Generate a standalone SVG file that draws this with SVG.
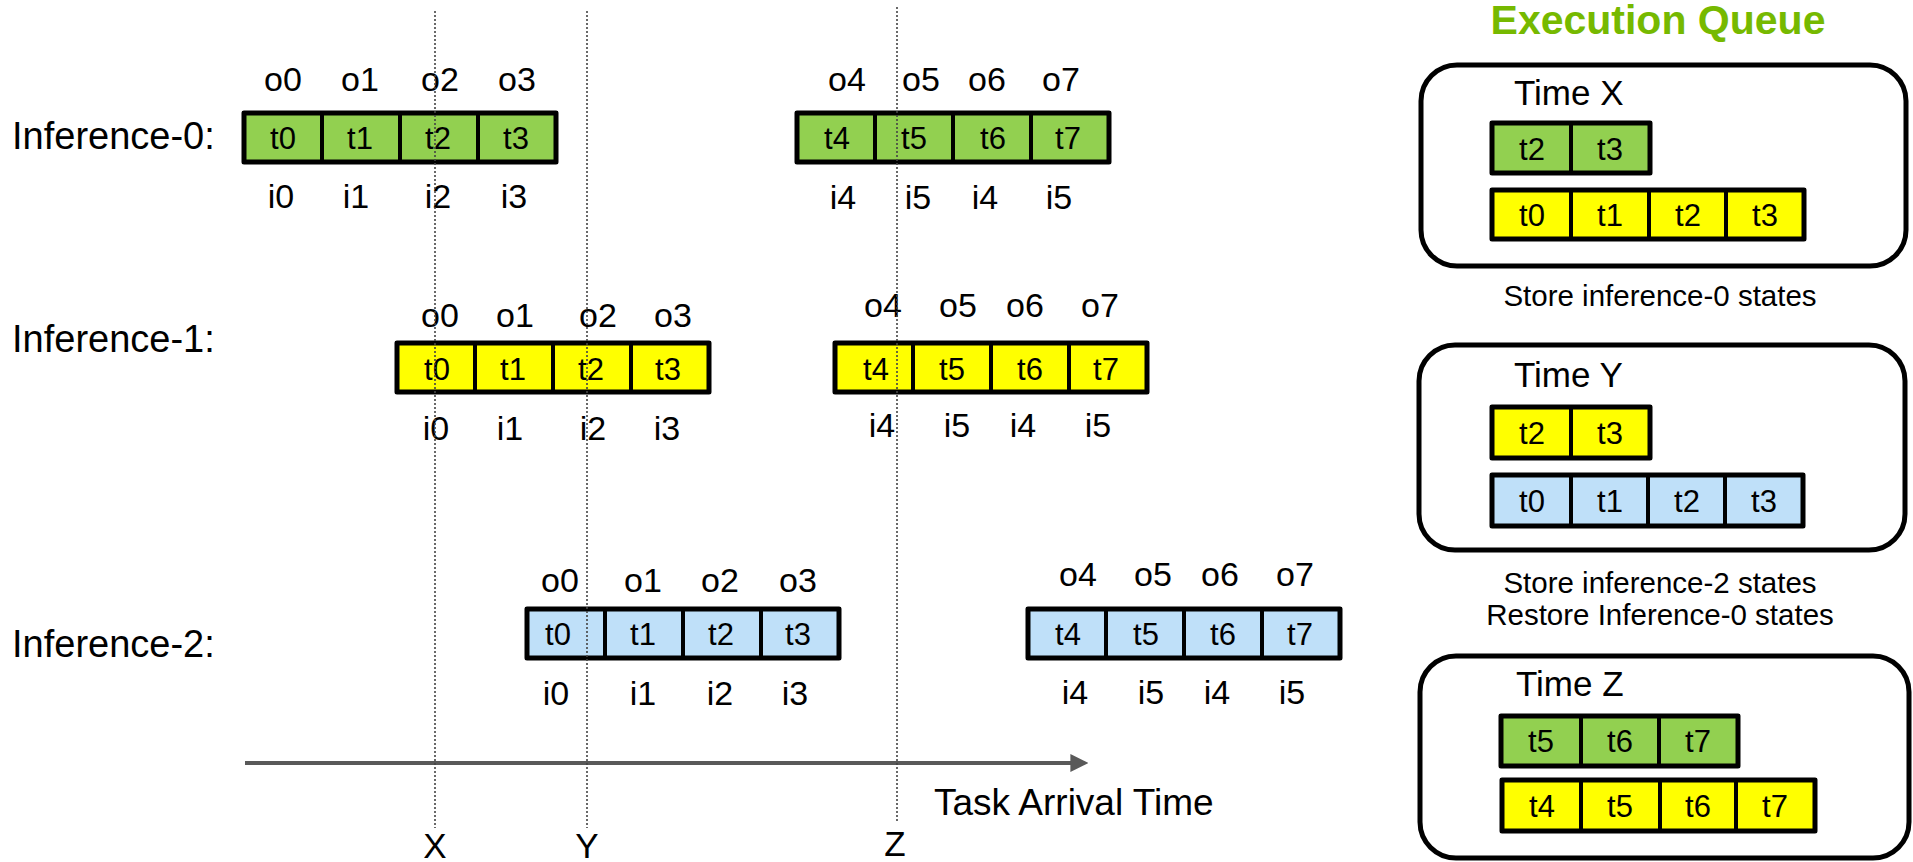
<svg xmlns="http://www.w3.org/2000/svg" width="1913" height="862" viewBox="0 0 1913 862">
  <style>
    text { font-family: "Liberation Sans", Arial, sans-serif; fill: #000; }
    .lbl { font-size: 34px; text-anchor: middle; }
    .tl { font-size: 31px; text-anchor: middle; }
    .row { font-size: 38px; }
    .cap { font-size: 29.5px; text-anchor: middle; }
    .time { font-size: 35px; }
    .axis-text { font-size: 37px; }
    .title { font-size: 41px; font-weight: bold; fill: #76b900; text-anchor: middle; }
    .g { fill: #92d050; }
    .y { fill: #ffff00; }
    .b { fill: #bfe0f9; }
    .cell { stroke: #000; stroke-width: 4; }
    .frame { fill: none; stroke: #000; stroke-width: 5; stroke-linejoin: round; }
    .queue { fill: #fff; stroke: #000; stroke-width: 5; }
    .guide { stroke: #444; stroke-width: 1.6; stroke-dasharray: 2 2; fill: none; }
    .axis { stroke: #595959; stroke-width: 4; fill: none; }
  </style>
  <defs>
    <marker id="arrowhead" viewBox="0 0 10 10" refX="2" refY="5" markerWidth="4.5" markerHeight="4.5" orient="auto">
      <path d="M0,0 L10,5 L0,10 z" fill="#595959"/>
    </marker>
  </defs>
  <rect width="1913" height="862" fill="#fff"/>

  <!-- Inference-0 -->
  <g id="inference-0">
    <text class="row" x="12" y="149">Inference-0:</text>
    <g class="lbl">
      <text x="283" y="91">o0</text><text x="360" y="91">o1</text><text x="440" y="91">o2</text><text x="517" y="91">o3</text>
      <text x="847" y="91">o4</text><text x="921" y="91">o5</text><text x="987" y="91">o6</text><text x="1061" y="91">o7</text>
      <text x="281" y="208">i0</text><text x="356" y="208">i1</text><text x="438" y="208">i2</text><text x="514" y="208">i3</text>
      <text x="843" y="209">i4</text><text x="918" y="209">i5</text><text x="985" y="209">i4</text><text x="1059" y="209">i5</text>
    </g>
    <g class="g cell">
      <rect x="244" y="113" width="78" height="49"/><rect x="322" y="113" width="78" height="49"/>
      <rect x="400" y="113" width="78" height="49"/><rect x="478" y="113" width="78" height="49"/>
      <rect x="797" y="113" width="78" height="49"/><rect x="875" y="113" width="78" height="49"/>
      <rect x="953" y="113" width="78" height="49"/><rect x="1031" y="113" width="78" height="49"/>
    </g>
    <rect class="frame" x="244" y="113" width="312" height="49"/>
    <rect class="frame" x="797" y="113" width="312" height="49"/>
    <g class="tl">
      <text x="283" y="149">t0</text><text x="360" y="149">t1</text><text x="438" y="149">t2</text><text x="516" y="149">t3</text>
      <text x="837" y="149">t4</text><text x="914" y="149">t5</text><text x="993" y="149">t6</text><text x="1068" y="149">t7</text>
    </g>
  </g>

  <!-- Inference-1 -->
  <g id="inference-1">
    <text class="row" x="12" y="352">Inference-1:</text>
    <g class="lbl">
      <text x="440" y="327">o0</text><text x="515" y="327">o1</text><text x="598" y="327">o2</text><text x="673" y="327">o3</text>
      <text x="883" y="317">o4</text><text x="958" y="317">o5</text><text x="1025" y="317">o6</text><text x="1100" y="317">o7</text>
      <text x="436" y="440">i0</text><text x="510" y="440">i1</text><text x="593" y="440">i2</text><text x="667" y="440">i3</text>
      <text x="882" y="437">i4</text><text x="957" y="437">i5</text><text x="1023" y="437">i4</text><text x="1098" y="437">i5</text>
    </g>
    <g class="y cell">
      <rect x="397" y="343" width="78" height="49"/><rect x="475" y="343" width="78" height="49"/>
      <rect x="553" y="343" width="78" height="49"/><rect x="631" y="343" width="78" height="49"/>
      <rect x="835" y="343" width="78" height="49"/><rect x="913" y="343" width="78" height="49"/>
      <rect x="991" y="343" width="78" height="49"/><rect x="1069" y="343" width="78" height="49"/>
    </g>
    <rect class="frame" x="397" y="343" width="312" height="49"/>
    <rect class="frame" x="835" y="343" width="312" height="49"/>
    <g class="tl">
      <text x="437" y="380">t0</text><text x="513" y="380">t1</text><text x="591" y="380">t2</text><text x="668" y="380">t3</text>
      <text x="876" y="380">t4</text><text x="952" y="380">t5</text><text x="1030" y="380">t6</text><text x="1106" y="380">t7</text>
    </g>
  </g>

  <!-- Inference-2 -->
  <g id="inference-2">
    <text class="row" x="12" y="657">Inference-2:</text>
    <g class="lbl">
      <text x="560" y="592">o0</text><text x="643" y="592">o1</text><text x="720" y="592">o2</text><text x="798" y="592">o3</text>
      <text x="1078" y="586">o4</text><text x="1153" y="586">o5</text><text x="1220" y="586">o6</text><text x="1295" y="586">o7</text>
      <text x="556" y="705">i0</text><text x="643" y="705">i1</text><text x="720" y="705">i2</text><text x="795" y="705">i3</text>
      <text x="1075" y="704">i4</text><text x="1151" y="704">i5</text><text x="1217" y="704">i4</text><text x="1292" y="704">i5</text>
    </g>
    <g class="b cell">
      <rect x="527" y="609" width="78" height="49"/><rect x="605" y="609" width="78" height="49"/>
      <rect x="683" y="609" width="78" height="49"/><rect x="761" y="609" width="78" height="49"/>
      <rect x="1028" y="609" width="78" height="49"/><rect x="1106" y="609" width="78" height="49"/>
      <rect x="1184" y="609" width="78" height="49"/><rect x="1262" y="609" width="78" height="49"/>
    </g>
    <rect class="frame" x="527" y="609" width="312" height="49"/>
    <rect class="frame" x="1028" y="609" width="312" height="49"/>
    <g class="tl">
      <text x="558" y="645">t0</text><text x="643" y="645">t1</text><text x="721" y="645">t2</text><text x="798" y="645">t3</text>
      <text x="1068" y="645">t4</text><text x="1146" y="645">t5</text><text x="1223" y="645">t6</text><text x="1300" y="645">t7</text>
    </g>
  </g>

  <!-- Execution queue panel -->
  <text class="title" x="1658" y="34">Execution Queue</text>

  <g id="queue-time-x">
    <rect class="queue" x="1421" y="65" width="485" height="201" rx="36"/>
    <text class="time" x="1514" y="105">Time X</text>
    <g class="g cell">
      <rect x="1492" y="123" width="79" height="50"/><rect x="1571" y="123" width="79" height="50"/>
    </g>
    <rect class="frame" x="1492" y="123" width="158" height="50"/>
    <g class="y cell">
      <rect x="1492" y="190" width="79" height="49"/><rect x="1571" y="190" width="78" height="49"/>
      <rect x="1649" y="190" width="77" height="49"/><rect x="1726" y="190" width="78" height="49"/>
    </g>
    <rect class="frame" x="1492" y="190" width="312" height="49"/>
    <g class="tl">
      <text x="1532" y="160">t2</text><text x="1610" y="160">t3</text>
      <text x="1532" y="226">t0</text><text x="1610" y="226">t1</text><text x="1688" y="226">t2</text><text x="1765" y="226">t3</text>
    </g>
  </g>
  <text class="cap" x="1660" y="306">Store inference-0 states</text>

  <g id="queue-time-y">
    <rect class="queue" x="1419" y="345" width="486" height="205" rx="36"/>
    <text class="time" x="1514" y="387">Time Y</text>
    <g class="y cell">
      <rect x="1492" y="407" width="79" height="51"/><rect x="1571" y="407" width="79" height="51"/>
    </g>
    <rect class="frame" x="1492" y="407" width="158" height="51"/>
    <g class="b cell">
      <rect x="1492" y="475" width="79" height="51"/><rect x="1571" y="475" width="77" height="51"/>
      <rect x="1648" y="475" width="77" height="51"/><rect x="1725" y="475" width="78" height="51"/>
    </g>
    <rect class="frame" x="1492" y="475" width="311" height="51"/>
    <g class="tl">
      <text x="1532" y="444">t2</text><text x="1610" y="444">t3</text>
      <text x="1532" y="512">t0</text><text x="1610" y="512">t1</text><text x="1687" y="512">t2</text><text x="1764" y="512">t3</text>
    </g>
  </g>
  <text class="cap" x="1660" y="593">Store inference-2 states</text>
  <text class="cap" x="1660" y="625">Restore Inference-0 states</text>

  <g id="queue-time-z">
    <rect class="queue" x="1420" y="656" width="489" height="202" rx="36"/>
    <text class="time" x="1516" y="696">Time Z</text>
    <g class="g cell">
      <rect x="1501" y="716" width="80" height="50"/><rect x="1581" y="716" width="78" height="50"/>
      <rect x="1659" y="716" width="79" height="50"/>
    </g>
    <rect class="frame" x="1501" y="716" width="237" height="50"/>
    <g class="y cell">
      <rect x="1502" y="780" width="79" height="51"/><rect x="1581" y="780" width="79" height="51"/>
      <rect x="1660" y="780" width="76" height="51"/><rect x="1736" y="780" width="79" height="51"/>
    </g>
    <rect class="frame" x="1502" y="780" width="313" height="51"/>
    <g class="tl">
      <text x="1541" y="752">t5</text><text x="1620" y="752">t6</text><text x="1698" y="752">t7</text>
      <text x="1542" y="817">t4</text><text x="1620" y="817">t5</text><text x="1698" y="817">t6</text><text x="1775" y="817">t7</text>
    </g>
  </g>

  <!-- Timeline: arrival axis and time markers -->
  <g id="connectors">
    <line class="axis" x1="245" y1="763" x2="1074" y2="763" marker-end="url(#arrowhead)"/>
    <line class="guide" x1="435" y1="11" x2="435" y2="828"/>
    <line class="guide" x1="587" y1="11" x2="587" y2="828"/>
    <line class="guide" x1="897" y1="7" x2="897" y2="823"/>
  </g>
  <g id="axis-labels">
    <text class="axis-text" x="934" y="815">Task Arrival Time</text>
    <text class="time" x="435" y="858" text-anchor="middle">X</text>
    <text class="time" x="587" y="858" text-anchor="middle">Y</text>
    <text class="time" x="895" y="856" text-anchor="middle">Z</text>
  </g>
</svg>
